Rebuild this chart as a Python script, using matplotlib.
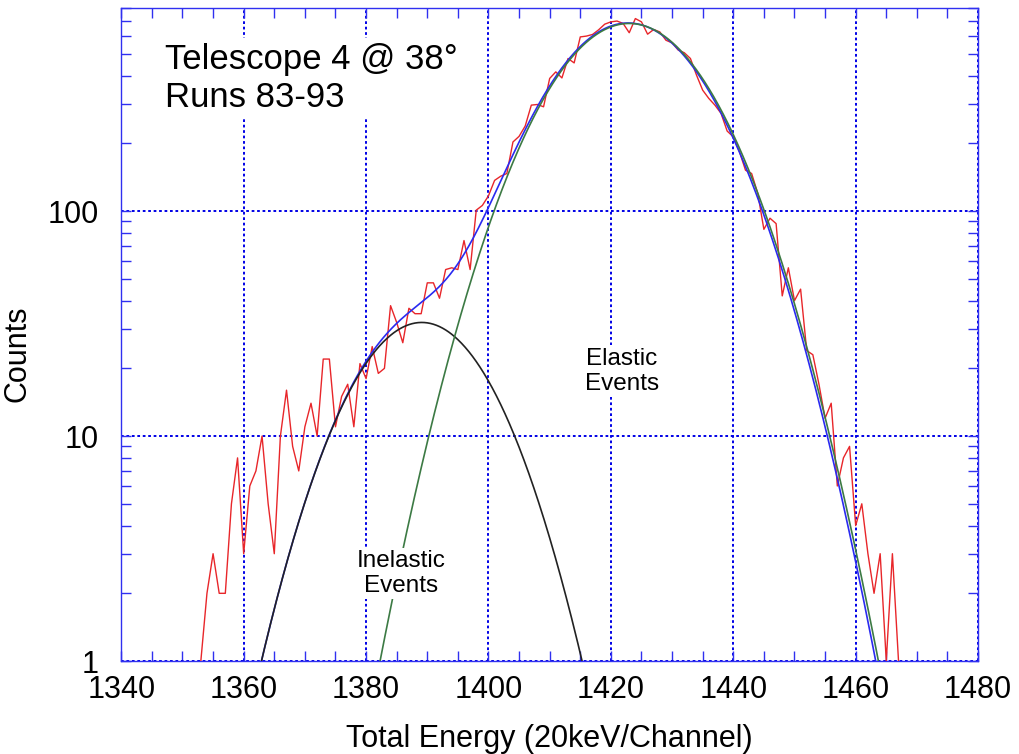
import numpy as np
import matplotlib
matplotlib.use('Agg')
import matplotlib.pyplot as plt
from matplotlib.ticker import FixedLocator, MultipleLocator, NullFormatter, LogLocator

plt.rcParams['font.family'] = ['Liberation Sans', 'DejaVu Sans']

# measured spectrum, one count value per channel
first_ch, last_ch = 1353, 1467
counts = [
    1, 2, 3, 2, 2, 5, 8, 3, 6, 7,
    10, 5, 3, 10, 16, 9, 7, 11, 14, 10,
    22, 22, 11, 15, 17, 11, 21, 18, 25, 19,
    20, 38, 32, 26, 37, 35, 35, 48, 48, 41,
    55, 56, 55, 74, 55, 101, 106, 117, 137, 143,
    147, 203, 215, 239, 296, 298, 291, 389, 416, 391,
    477, 456, 595, 600, 610, 640, 678, 694, 700, 683,
    621, 718, 694, 612, 642, 626, 575, 560, 520, 506,
    477, 402, 345, 317, 296, 272, 227, 214, 184, 152,
    147, 120, 83, 93, 88, 42, 56, 40, 45, 24,
    23, 17, 12, 14, 6, 8, 9, 4, 5, 3,
    2, 3, 1, 3, 1,
]

# gaussian fit parameters: amplitude, centre, sigma
inelastic_fit = [32.0, 1389.1, 9.95]
elastic_fit = [683.0, 1423.0, 11.27]
total_elastic_part = [686.0, 1422.8, 11.2]

xticks = [1340, 1360, 1380, 1400, 1420, 1440, 1460, 1480]
yticks = [1, 10, 100]


def gauss(x, p):
    a, mu, s = p
    return a * np.exp(-(x - mu) ** 2 / (2 * s ** 2))


channels = np.arange(first_ch, last_ch + 1)
xf = np.linspace(1340, 1480, 1401)
y_inel = gauss(xf, inelastic_fit)
y_el = gauss(xf, elastic_fit)
y_tot = y_inel + gauss(xf, total_elastic_part)

fig = plt.figure(figsize=(10.2, 7.54), dpi=100)
ax = fig.add_axes([0.1189, 0.1233, 0.8400, 0.8661])

ax.plot(channels, counts, color='#e8262a', lw=1.0, zorder=3)
ax.plot(xf, y_tot, color='#2a2af0', lw=1.2, zorder=4)
ax.plot(xf, y_inel, color='#222222', lw=1.2, zorder=5)
ax.plot(xf, y_el, color='#3c7a44', lw=1.2, zorder=5)

ax.set_yscale('log')
ax.set_xlim(1340, 1480)
ax.set_ylim(1, 800)

ax.xaxis.set_major_locator(FixedLocator(xticks))
ax.xaxis.set_minor_locator(MultipleLocator(5))
ax.yaxis.set_major_locator(FixedLocator(yticks))
ax.yaxis.set_minor_locator(LogLocator(base=10, subs=np.arange(2, 10)))
ax.yaxis.set_minor_formatter(NullFormatter())
ax.set_yticklabels([str(v) for v in yticks])

ax.grid(True, which='major', color='#0000e6', linestyle=(0, (1.4, 1.4)), lw=1.4, zorder=1)
ax.set_axisbelow(True)

for sp in ax.spines.values():
    sp.set_color('#3030f0')
    sp.set_linewidth(1.0)

ax.tick_params(which='both', direction='in', top=True, right=True,
               color='#3030f0', width=1.0, labelsize=22, labelcolor='black')
ax.tick_params(which='major', length=7)
ax.tick_params(which='minor', length=7)
ax.tick_params(axis='x', which='major', pad=10)
ax.tick_params(axis='y', which='major', pad=16)

ax.set_xlabel('Total Energy (20keV/Channel)', fontsize=22)
ax.set_ylabel('Counts', fontsize=22)
ax.xaxis.set_label_coords(0.5, -0.097)
ax.yaxis.set_label_coords(-0.104, 0.47)

box = dict(facecolor='white', edgecolor='none', pad=3)
ax.text(1347.1, 390, 'Telescope 4 @ 38°\nRuns 83-93', fontsize=25,
        ha='left', va='center', bbox=box, zorder=10)
ax.text(1385.7, 2.45, 'Inelastic\nEvents', fontsize=17.5, ha='center',
        va='center', bbox=dict(facecolor='white', edgecolor='none', pad=1.5),
        zorder=10)
ax.text(1421.8, 19.4, 'Elastic\nEvents', fontsize=17.5, ha='center',
        va='center', bbox=dict(facecolor='white', edgecolor='none', pad=1.5),
        zorder=10)

fig.savefig('out.png', dpi=100)
